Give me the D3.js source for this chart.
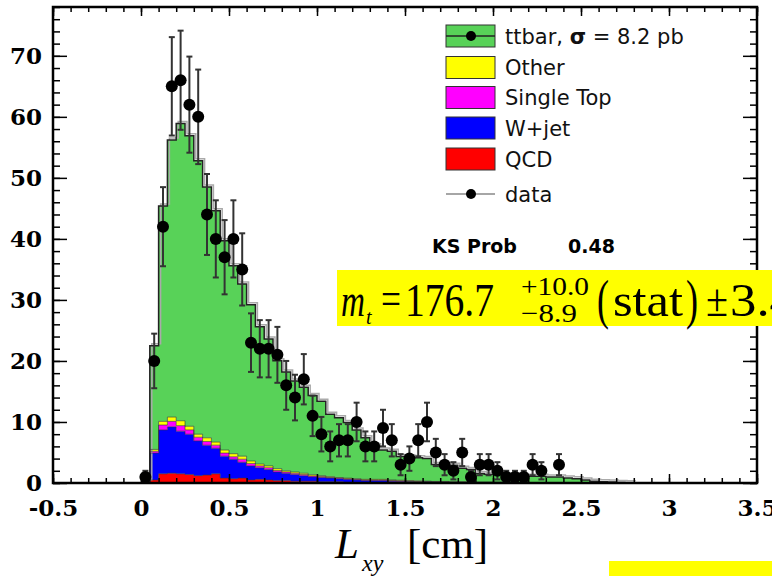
<!DOCTYPE html>
<html>
<head>
<meta charset="utf-8">
<script src="https://cdn.jsdelivr.net/npm/d3@7/dist/d3.min.js"></script>
<style>
	body { margin: 0; background: #fff; }
	svg { display: block; }
</style>
</head>
<body>
<svg id="chart" width="772" height="576"></svg>
<script>
// bin width of every histogram, in cm
var binWidth = 0.05;

// stacked MC, one value per 0.05 cm bin starting at 0
var qcd = [
	0, 0.5, 1.5, 1.6, 1.5, 1.4, 1.2, 1.3, 1.5, 0.8,
	0.7, 0.8, 0.5, 0.6, 0.5, 0.4, 0.4, 0.3, 0.3, 0.3,
	0.2, 0.2, 0.2, 0.1, 0.1, 0.1, 0.1, 0.1, 0.1, 0.05,
	0.05, 0.05, 0.05, 0.05, 0.05, 0, 0, 0, 0, 0,
	0, 0, 0, 0, 0, 0, 0, 0, 0, 0,
	0, 0, 0, 0, 0, 0
];
var wjet = [
	0, 4.4, 7.2, 7.6, 7.0, 6.6, 5.7, 4.9, 4.2, 3.6,
	3.2, 2.6, 2.3, 1.9, 1.7, 1.4, 1.2, 1.1, 0.9, 0.7,
	0.7, 0.6, 0.5, 0.5, 0.4, 0.3, 0.3, 0.3, 0.2, 0.2,
	0.2, 0.15, 0.15, 0.1, 0.1, 0.1, 0.1, 0.1, 0.05, 0.05,
	0.05, 0.05, 0.05, 0, 0, 0, 0, 0, 0, 0,
	0, 0, 0, 0, 0, 0
];
var singleTop = [
	0, 0.3, 0.8, 0.9, 0.9, 0.7, 0.6, 0.6, 0.5, 0.5,
	0.4, 0.5, 0.4, 0.3, 0.3, 0.25, 0.2, 0.2, 0.2, 0.15,
	0.15, 0.1, 0.1, 0.1, 0.1, 0.1, 0.1, 0.1, 0.1, 0.1,
	0.05, 0.05, 0.05, 0.05, 0.05, 0.05, 0.05, 0.05, 0.05, 0.05,
	0.05, 0.05, 0, 0, 0, 0, 0, 0, 0, 0,
	0, 0, 0, 0, 0, 0
];
var other = [
	0, 0.3, 0.6, 0.7, 0.8, 0.6, 0.5, 0.6, 0.5, 0.5,
	0.5, 0.5, 0.4, 0.3, 0.3, 0.3, 0.2, 0.2, 0.2, 0.2,
	0.15, 0.15, 0.1, 0.1, 0.1, 0.1, 0.1, 0.1, 0.1, 0.1,
	0.1, 0.1, 0.05, 0.05, 0.05, 0.05, 0.05, 0.05, 0.05, 0.05,
	0.05, 0.05, 0.05, 0, 0, 0, 0, 0, 0, 0,
	0, 0, 0, 0, 0, 0
];
var ttbar = [
	0.2, 17.0, 35.3, 45.4, 48.7, 47.6, 44.8, 41.1, 37.9, 34.3,
	30.8, 28.2, 25.6, 22.5, 20.8, 17.7, 16.2, 14.9, 14.1, 13.0,
	12.2, 10.2, 9.8, 9.1, 8.0, 6.8, 5.5, 4.8, 4.7, 3.9,
	3.8, 3.8, 3.7, 2.8, 2.8, 2.7, 2.2, 2.0, 1.4, 1.3,
	1.3, 1.2, 1.2, 1.1, 1.1, 1.1, 1.0, 1.0, 0.8, 0.7,
	0.5, 0.3, 0.2, 0.15, 0.1, 0.05
];

// observed events per bin
var dataCounts = [
	1, 20, 42, 65, 66, 62, 60, 44, 40, 37,
	40, 35, 23, 22, 22, 21, 16, 14, 17, 11,
	8, 6, 7, 7, 10, 6, 6, 9, 7, 3,
	4, 7, 10, 5, 3, 2, 5, 1, 3, 3,
	2, 1, 1, 1, 3, 2, 0, 3
];

var xTicks = [-0.5, 0, 0.5, 1, 1.5, 2, 2.5, 3, 3.5];
var yTicks = [0, 10, 20, 30, 40, 50, 60, 70];

var layerKeys = ['qcd', 'wjet', 'singleTop', 'other', 'ttbar'];
var layerColors = {
	qcd: '#ff0000',
	wjet: '#0000ff',
	singleTop: '#ff00ff',
	other: '#ffff00',
	ttbar: '#58d258'
};
var legendLabels = ['ttbar', 'Other', 'Single Top', 'W+jet', 'QCD', 'data'];
var legendKeys = ['ttbar', 'other', 'singleTop', 'wjet', 'qcd', 'data'];

(function() {
	'use strict';

	var svg = d3.select('#chart');

	var x = d3.scaleLinear().domain([-0.5, 3.5]).range([53, 757]);
	var y = d3.scaleLinear().domain([0, 78]).range([483, 7]);

	// table for d3.stack
	var bins = ttbar.map(function(v, i) {
		return {
			x0: i * binWidth,
			qcd: qcd[i] || 0,
			wjet: wjet[i] || 0,
			singleTop: singleTop[i] || 0,
			other: other[i] || 0,
			ttbar: v
		};
	});

	var series = d3.stack().keys(layerKeys)(bins);

	// two points per bin so the area is a histogram
	function stepPoints(s) {
		var pts = [];
		s.forEach(function(d) {
			pts.push({ x: d.data.x0, y0: d[0], y1: d[1] });
			pts.push({ x: d.data.x0 + binWidth, y0: d[0], y1: d[1] });
		});
		return pts;
	}

	var area = d3.area()
		.x(function(d) { return x(d.x); })
		.y0(function(d) { return y(d.y0); })
		.y1(function(d) { return y(d.y1); });

	var topLine = d3.line()
		.x(function(d) { return x(d.x); })
		.y(function(d) { return y(d.y1); });

	var layers = svg.append('g').attr('class', 'layers');

	series.forEach(function(s) {
		var pts = stepPoints(s);
		layers.append('path')
			.attr('d', area(pts))
			.attr('fill', layerColors[s.key]);
	});

	// outlines, the total one with a grey shadow like ROOT
	var lastPts = stepPoints(series[series.length - 1]);
	layers.append('path')
		.attr('d', topLine(lastPts))
		.attr('transform', 'translate(2,-2)')
		.attr('fill', 'none')
		.attr('stroke', '#aaa')
		.attr('stroke-width', 1.5);

	series.forEach(function(s) {
		layers.append('path')
			.attr('d', topLine(stepPoints(s)))
			.attr('fill', 'none')
			.attr('stroke', s.key === 'ttbar' ? '#222' : '#333')
			.attr('stroke-opacity', s.key === 'ttbar' ? 1 : 0.6)
			.attr('stroke-width', s.key === 'ttbar' ? 1.5 : 1);
	});

	// data points with sqrt(n) errors
	var pts = dataCounts.map(function(n, i) {
		return { x: i * binWidth + binWidth / 2, n: n, e: Math.sqrt(n) };
	}).filter(function(d) { return d.n > 0; });

	var dataG = svg.append('g').attr('class', 'data');

	var bars = dataG.selectAll('g.err').data(pts).enter().append('g')
		.attr('class', 'err')
		.attr('stroke', '#333')
		.attr('stroke-width', 2);

	bars.append('line')
		.attr('x1', function(d) { return x(d.x); })
		.attr('x2', function(d) { return x(d.x); })
		.attr('y1', function(d) { return y(d.n - d.e); })
		.attr('y2', function(d) { return y(d.n + d.e); });
	bars.append('line')
		.attr('x1', function(d) { return x(d.x) - 3; })
		.attr('x2', function(d) { return x(d.x) + 3; })
		.attr('y1', function(d) { return y(d.n + d.e); })
		.attr('y2', function(d) { return y(d.n + d.e); });
	bars.append('line')
		.attr('x1', function(d) { return x(d.x) - 3; })
		.attr('x2', function(d) { return x(d.x) + 3; })
		.attr('y1', function(d) { return y(d.n - d.e); })
		.attr('y2', function(d) { return y(d.n - d.e); });

	dataG.selectAll('circle').data(pts).enter().append('circle')
		.attr('cx', function(d) { return x(d.x); })
		.attr('cy', function(d) { return y(d.n); })
		.attr('r', 6)
		.attr('fill', '#000');

	// AXES
	var minorY = d3.range(0, 79, 2);
	var minorX = d3.range(-5, 36).map(function(v) { return v / 10; });

	function styleAxis(g) {
		g.select('.domain').remove();
		g.selectAll('.tick line').attr('stroke', '#000').attr('stroke-width', 1.5);
	}

	svg.append('g')
		.attr('transform', 'translate(53,0)')
		.call(d3.axisLeft(y).tickValues(minorY).tickSize(-7).tickFormat(''))
		.call(styleAxis);
	svg.append('g')
		.attr('transform', 'translate(53,0)')
		.call(d3.axisLeft(y).tickValues(yTicks).tickSize(-14).tickPadding(11))
		.call(styleAxis)
		.selectAll('text')
		.attr('font-family', 'DejaVu Serif')
		.attr('font-weight', 'bold')
		.attr('font-size', 23)
		.attr('fill', '#000');

	svg.append('g')
		.attr('transform', 'translate(757,0)')
		.call(d3.axisRight(y).tickValues(minorY).tickSize(-7).tickFormat(''))
		.call(styleAxis);
	svg.append('g')
		.attr('transform', 'translate(757,0)')
		.call(d3.axisRight(y).tickValues(yTicks).tickSize(-14).tickFormat(''))
		.call(styleAxis);

	svg.append('g')
		.attr('transform', 'translate(0,483)')
		.call(d3.axisBottom(x).tickValues(minorX).tickSize(-5).tickFormat(''))
		.call(styleAxis);
	svg.append('g')
		.attr('transform', 'translate(0,483)')
		.call(d3.axisBottom(x).tickValues(xTicks).tickSize(-9).tickPadding(17)
			.tickFormat(function(d) { return String(d); }))
		.call(styleAxis)
		.selectAll('text')
		.attr('font-family', 'DejaVu Serif')
		.attr('font-weight', 'bold')
		.attr('font-size', 23)
		.attr('fill', '#000');

	svg.append('g')
		.attr('transform', 'translate(0,7)')
		.call(d3.axisTop(x).tickValues(minorX).tickSize(-5).tickFormat(''))
		.call(styleAxis);
	svg.append('g')
		.attr('transform', 'translate(0,7)')
		.call(d3.axisTop(x).tickValues(xTicks).tickSize(-9).tickFormat(''))
		.call(styleAxis);

	// frame
	svg.append('rect')
		.attr('x', x(-0.5))
		.attr('y', y(78))
		.attr('width', x(3.5) - x(-0.5))
		.attr('height', y(0) - y(78))
		.attr('fill', 'none')
		.attr('stroke', '#000')
		.attr('stroke-width', 2.5);

	// axis title
	var title = svg.append('g')
		.attr('font-family', 'Liberation Serif')
		.attr('fill', '#000');
	title.append('text').attr('x', 335).attr('y', 558)
		.attr('font-size', 43).attr('font-style', 'italic').text('L');
	title.append('text').attr('x', 362).attr('y', 571)
		.attr('font-size', 24).attr('font-style', 'italic').text('xy');
	title.append('text').attr('x', 407).attr('y', 558)
		.attr('font-size', 43).text('[cm]');

	// LEGEND
	var legend = svg.append('g').attr('class', 'legend');
	var rowY = [36, 67.5, 97.5, 128, 159, 194];

	legendKeys.forEach(function(k, i) {
		var cy = rowY[i];
		if (k !== 'data') {
			legend.append('rect')
				.attr('x', 446).attr('y', cy - 11)
				.attr('width', 49).attr('height', 22)
				.attr('fill', layerColors[k])
				.attr('stroke', '#333')
				.attr('stroke-width', 1);
		}
		if (k === 'ttbar' || k === 'data') {
			legend.append('line')
				.attr('x1', 446).attr('x2', 495)
				.attr('y1', cy).attr('y2', cy)
				.attr('stroke', k === 'data' ? '#888' : '#222')
				.attr('stroke-width', 1.5);
			legend.append('circle')
				.attr('cx', 471).attr('cy', cy).attr('r', 5)
				.attr('fill', '#000');
		}
		var t = legend.append('text')
			.attr('x', 505).attr('y', cy)
			.attr('dy', '0.36em')
			.attr('font-family', 'DejaVu Sans')
			.attr('font-size', 21)
			.attr('fill', '#111')
			.text(legendLabels[i]);
		if (k === 'ttbar') {
			t.append('tspan').text(', ');
			t.append('tspan').attr('font-weight', 'bold').text('σ');
			t.append('tspan').text(' = 8.2 pb');
		}
	});

	legend.append('text')
		.attr('x', 432).attr('y', 253)
		.attr('font-family', 'DejaVu Sans').attr('font-weight', 'bold')
		.attr('font-size', 19).text('KS Prob');
	legend.append('text')
		.attr('x', 568).attr('y', 253)
		.attr('font-family', 'DejaVu Sans').attr('font-weight', 'bold')
		.attr('font-size', 19).text('0.48');

	// yellow mass box, cut by the right edge like the slide
	var box = svg.append('g').attr('font-family', 'Liberation Serif').attr('fill', '#000');
	box.append('rect')
		.attr('x', 337).attr('y', 270)
		.attr('width', 440).attr('height', 56)
		.attr('fill', '#ffff00');

	function piece(txt, px, py, size, len, italic) {
		var t = box.append('text')
			.attr('x', px).attr('y', py)
			.attr('font-size', size)
			.text(txt);
		if (len) t.attr('textLength', len).attr('lengthAdjust', 'spacingAndGlyphs');
		if (italic) t.attr('font-style', 'italic');
		return t;
	}

	piece('m', 341, 316, 46, 24, true);
	piece('t', 366, 324, 20, null, true);
	piece('=', 381, 314, 46, 20);
	piece('176.7', 405, 316, 46, 89);
	piece('+10.0', 521, 295, 26, 68);
	piece('\u22128.9', 521, 322, 26, 56);
	piece('(', 597, 318, 54, 12);
	piece('stat', 613, 316, 46, 70);
	piece(')', 686, 318, 54, 12);
	piece('\u00b1', 706, 316, 46, 22);
	piece('3.4', 730, 316, 46, 66);

	svg.append('rect')
		.attr('x', 609).attr('y', 561)
		.attr('width', 163).attr('height', 15)
		.attr('fill', '#ffff00');
})();
</script>
</body>
</html>
